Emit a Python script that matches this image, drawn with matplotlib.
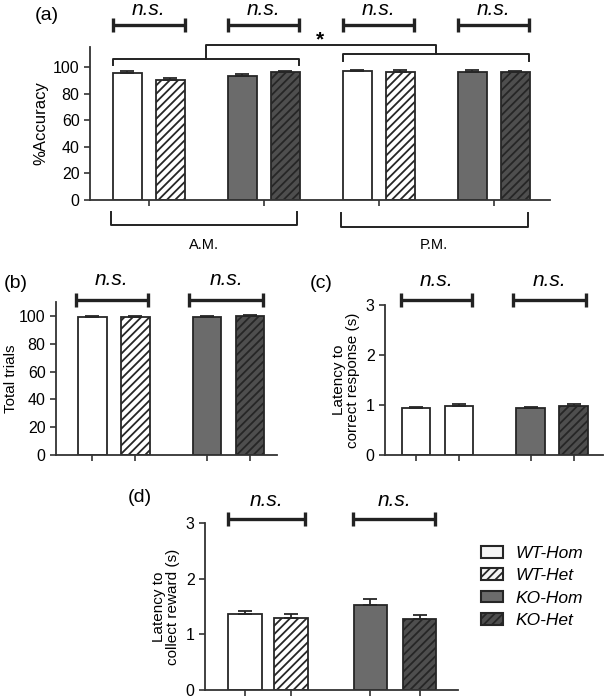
#!/usr/bin/env python3

import numpy as np
import matplotlib
matplotlib.use('Agg')
import matplotlib.pyplot as plt
from matplotlib.patches import Patch

plt.rcParams['font.family'] = ['Liberation Sans', 'DejaVu Sans']
plt.rcParams['hatch.linewidth'] = 1.3

groups = ['WT-Hom', 'WT-Het', 'KO-Hom', 'KO-Het']

# (a) accuracy, A.M. then P.M.
acc_am = [95.5, 90.0, 93.0, 96.0]
acc_am_err = [1.5, 2.0, 1.5, 1.0]
acc_pm = [97.0, 96.0, 96.0, 96.0]
acc_pm_err = [1.0, 1.5, 1.5, 1.0]

# (b) total trials
trials = [99.5, 99.5, 99.5, 100.0]
trials_err = [0.5, 0.5, 0.5, 0.3]

# (c) latency to correct response (s)
lat_resp = [0.95, 0.98, 0.94, 0.99]
lat_resp_err = [0.02, 0.04, 0.03, 0.03]

# (d) latency to collect reward (s)
lat_rew = [1.37, 1.30, 1.53, 1.28]
lat_rew_err = [0.05, 0.07, 0.10, 0.07]

FACE = ['white', 'white', '#6b6b6b', '#4e4e4e']
HATCH = [None, '////', None, '////']
EDGE = '#262626'
W, H = 604, 700


def rect(x0, y0, x1, y1):
    # pixel box -> figure fraction
    return [x0 / W, 1 - y1 / H, (x1 - x0) / W, (y1 - y0) / H]


def style(ax):
    for s in ['top', 'right']:
        ax.spines[s].set_visible(False)
    for s in ['left', 'bottom']:
        ax.spines[s].set_linewidth(1.3)
        ax.spines[s].set_color('#333333')
    ax.tick_params(axis='both', direction='out', length=4, width=1.2,
                   color='#333333', labelsize=11.5)
    ax.tick_params(axis='x', labelbottom=False)


def draw_bars(ax, xs, vals, errs, width, faces=FACE, hatches=HATCH):
    for x, v, e, fc, h in zip(xs, vals, errs, faces, hatches):
        ax.bar(x, v, width=width, color=fc, edgecolor=EDGE, linewidth=1.3,
               hatch=h, zorder=2)
        ax.errorbar(x, v, yerr=[[0], [e]], color=EDGE, elinewidth=1.3,
                    capsize=5, capthick=1.3, zorder=3)


def ns(ax, x0, x1, y, ytext):
    ax.plot([x0, x1], [y, y], color='#222222', lw=2.4, clip_on=False,
            solid_capstyle='butt')
    ax.plot([x0, x1], [y, y], ls='none', marker='|', markersize=10, mew=2.4,
            color='#222222', clip_on=False)
    ax.text((x0 + x1) / 2, ytext, 'n.s.', ha='center', va='center',
            fontsize=15, style='italic', clip_on=False)


fig = plt.figure(figsize=(6.04, 7.0), dpi=100)

# ---- (a)
ax = fig.add_axes(rect(90, 47, 550, 200))
centers = np.arange(4)
off, bw = 0.187, 0.25
for i, (vals, errs) in enumerate([(acc_am[:2], acc_am_err[:2]),
                                  (acc_am[2:], acc_am_err[2:]),
                                  (acc_pm[:2], acc_pm_err[:2]),
                                  (acc_pm[2:], acc_pm_err[2:])]):
    k = 0 if i % 2 == 0 else 2
    draw_bars(ax, [centers[i] - off, centers[i] + off], vals, errs, bw,
              FACE[k:k + 2], HATCH[k:k + 2])
ax.set_xlim(-0.513, 3.49)
ax.set_ylim(0, 115)
ax.set_yticks(range(0, 101, 20))
ax.set_xticks(centers)
ax.set_ylabel('%Accuracy', fontsize=12, labelpad=3)
style(ax)
for c in centers:
    ns(ax, c - 0.31, c + 0.31, 131.5, 143)
# significance bracket A.M. vs P.M.
kw = dict(color='#222222', lw=1.4, clip_on=False)
ax.plot([-0.31, -0.31, 1.31, 1.31], [101.5, 106, 106, 101.5], **kw)
ax.plot([1.69, 1.69, 3.31, 3.31], [104.5, 109.8, 109.8, 104.5], **kw)
ax.plot([0.5, 0.5, 2.5, 2.5], [106, 116.5, 116.5, 109.8], **kw)
ax.text(1.49, 120.5, '*', ha='center', va='center', fontsize=15,
        fontweight='bold', clip_on=False)
# session brackets below axis
ax.plot([-0.33, -0.33, 1.29, 1.29], [-9, -18.8, -18.8, -9], **kw)
ax.plot([1.67, 1.67, 3.3, 3.3], [-9.5, -20, -20, -9.5], **kw)
ax.text(0.48, -34, 'A.M.', ha='center', va='center', fontsize=10.5)
ax.text(2.48, -34, 'P.M.', ha='center', va='center', fontsize=10.5)
fig.text(35 / W, 1 - 15 / H, '(a)', fontsize=14, va='center')

# positions for b, c, d
pos = [0, 1, 2.67, 3.67]

# ---- (b)
ax = fig.add_axes(rect(56, 302, 277, 455))
draw_bars(ax, pos, trials, trials_err, 0.67)
ax.set_xlim(-0.84, 4.3)
ax.set_ylim(0, 110)
ax.set_yticks(range(0, 101, 20))
ax.set_xticks(pos)
ax.set_ylabel('Total trials', fontsize=11, labelpad=1)
style(ax)
ns(ax, -0.38, 1.3, 111.5, 126)
ns(ax, 2.25, 3.98, 111.5, 126)
fig.text(4 / W, 1 - 283 / H, '(b)', fontsize=14, va='center')

# ---- (c)
ax = fig.add_axes(rect(385, 305, 603, 455))
draw_bars(ax, pos, lat_resp, lat_resp_err, 0.67,
          FACE, [None, None, None, '////'])
ax.set_xlim(-0.72, 4.35)
ax.set_ylim(0, 3)
ax.set_yticks([0, 1, 2, 3])
ax.set_xticks(pos)
ax.set_ylabel('Latency to\ncorrect response (s)', fontsize=11,
              linespacing=1.0)
style(ax)
ns(ax, -0.35, 1.3, 3.1, 3.5)
ns(ax, 2.25, 3.95, 3.1, 3.5)
fig.text(310 / W, 1 - 283 / H, '(c)', fontsize=14, va='center')

# ---- (d)
ax = fig.add_axes(rect(205, 523, 458, 690))
draw_bars(ax, [0, 1, 2.72, 3.8], lat_rew, lat_rew_err, 0.72)
ax.set_xlim(-0.87, 4.63)
ax.set_ylim(0, 3)
ax.set_yticks([0, 1, 2, 3])
ax.set_xticks([0, 1, 2.72, 3.8])
ax.set_ylabel('Latency to\ncollect reward (s)', fontsize=11,
              linespacing=1.0)
style(ax)
ns(ax, -0.37, 1.3, 3.07, 3.41)
ns(ax, 2.35, 4.14, 3.07, 3.41)
fig.text(128 / W, 1 - 498 / H, '(d)', fontsize=14, va='center')

handles = [Patch(facecolor=f if f != 'white' else '#f4f4f4', edgecolor=EDGE,
                 hatch=h, linewidth=1.5) for f, h in zip(FACE, HATCH)]
leg = fig.legend(handles, groups, loc='upper left',
                 bbox_to_anchor=(481 / W, 1 - 546 / H), frameon=False,
                 prop={'size': 12.5, 'style': 'italic'}, handlelength=1.25,
                 handleheight=0.65, handletextpad=0.75, labelspacing=0.42,
                 borderaxespad=0, borderpad=0)

fig.savefig('out.png', dpi=100)
